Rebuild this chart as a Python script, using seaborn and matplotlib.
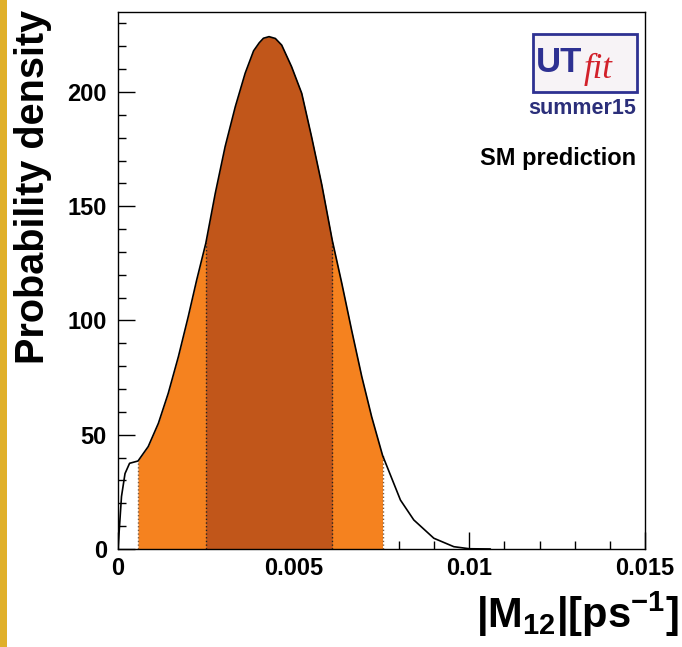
#imports
import numpy as np
import pandas as pd
import matplotlib
matplotlib.use("Agg")
import matplotlib.pyplot as plt
import seaborn as sns
from matplotlib.patches import Rectangle

#data
m12 = [0.0, 0.0001, 0.0002, 0.00033, 0.00057, 0.00086, 0.00115, 0.00143,
       0.00172, 0.0020, 0.00224, 0.0025, 0.00277, 0.00305, 0.00334, 0.00362,
       0.00386, 0.00402, 0.00414, 0.0043, 0.00448, 0.00466, 0.00494, 0.00523,
       0.00551, 0.0058, 0.0061, 0.00637, 0.00665, 0.00694, 0.00722, 0.00753,
       0.00766, 0.00804, 0.00842, 0.00899, 0.00956, 0.0100, 0.0106]
density = [0, 23, 33, 37.5, 38.5, 44.8, 55.0, 68.1,
           84.2, 101.7, 117.7, 133.8, 155.7, 176.1, 193.6, 208.2,
           218.0, 221.5, 223.5, 224.2, 223.4, 220.5, 211.1, 199.4,
           180.4, 159.5, 135, 116.3, 95.8, 75.4, 57.9, 41,
           36, 21.4, 12.7, 4.7, 1.0, 0.1, 0]
range95 = [0.00057, 0.00753]
range68 = [0.0025, 0.0061]
xticks = [0, 0.005, 0.01, 0.015]
xticklabels = ["0", "0.005", "0.01", "0.015"]
yticks = [0, 50, 100, 150, 200]

df = pd.DataFrame({"m12": m12, "density": density})

sns.set_style("white")
plt.rcParams['font.family'] = ['Liberation Sans', 'DejaVu Sans']
plt.rcParams['font.weight'] = 'bold'
plt.rcParams['text.color'] = 'black'
plt.rcParams['axes.labelcolor'] = 'black'
plt.rcParams['xtick.color'] = 'black'
plt.rcParams['ytick.color'] = 'black'
plt.rcParams['mathtext.fontset'] = 'custom'
plt.rcParams['mathtext.rm'] = 'Liberation Sans:bold'
plt.rcParams['mathtext.it'] = 'Liberation Sans:bold'
plt.rcParams['mathtext.bf'] = 'Liberation Sans:bold'
plt.rcParams['mathtext.default'] = 'rm'

fig = plt.figure(figsize=(6.82, 6.47), dpi=100)
ax = fig.add_axes([0.173, 0.1515, 0.7727, 0.83])

x = df["m12"].values
y = df["density"].values
# 95% and 68% regions
in95 = (x >= range95[0]) & (x <= range95[1])
in68 = (x >= range68[0]) & (x <= range68[1])
ax.fill_between(x, 0, y, where=in95, color="#f5821f", linewidth=0)
ax.fill_between(x, 0, y, where=in68, color="#c1561a", linewidth=0)
for xb in range95:
    ax.plot([xb, xb], [0, df.loc[df.m12 == xb, "density"].iloc[0]], ls=":", color="#7a5a40", lw=1)
for xb in range68:
    ax.plot([xb, xb], [0, df.loc[df.m12 == xb, "density"].iloc[0]], ls=":", color="#222222", lw=1)
sns.lineplot(data=df, x="m12", y="density", ax=ax, color="black", linewidth=1.2, estimator=None)

ax.set_xlim(0, 0.015)
ax.set_ylim(0, 235)
ax.set_xticks(xticks)
ax.set_xticklabels(xticklabels)
ax.set_yticks(yticks)
ax.set_xticks(np.arange(0, 0.0151, 0.001), minor=True)
ax.set_yticks(np.arange(0, 235, 10), minor=True)
ax.tick_params(axis="both", which="major", direction="in", length=12, width=1,
               labelsize=17, color="black", labelcolor="black")
ax.tick_params(axis="both", which="minor", direction="in", length=6, width=1, color="black")
ax.tick_params(axis="x", pad=6)
ax.tick_params(axis="y", pad=8)
ax.tick_params(bottom=True, left=True, top=False, right=False, which="both")
for lab in ax.get_xticklabels() + ax.get_yticklabels():
    lab.set_fontweight("bold")
for s in ax.spines.values():
    s.set_color("black")
    s.set_linewidth(1)

ax.set_xlabel("")
ax.set_ylabel("")
fig.text(0.048, 0.985, "Probability density", rotation=90, fontsize=28.5,
         fontweight="bold", ha="center", va="top")
fig.text(0.995, 0.012, r"$|M_{12}|[ps^{-1}]$", fontsize=30, ha="right", va="bottom")

#labels in the corner
fig.text(0.933, 0.755, "SM prediction", fontsize=17, fontweight="bold", ha="right", va="center")
fig.text(0.933, 0.833, "summer15", fontsize=15.5, fontweight="bold", color="#2b2f7a",
         ha="right", va="center")
fig.patches.append(Rectangle((533 / 682, 1 - 92 / 647), 104 / 682, 58 / 647,
                             transform=fig.transFigure, facecolor="#f7f3f6",
                             edgecolor="#2e3192", linewidth=2))
fig.text(536 / 682, 1 - 72 / 647, "UT", fontsize=25, fontweight="bold", color="#2e3192",
         ha="left", va="baseline")
fig.text(584 / 682, 1 - 78 / 647, "fit", fontsize=25, fontstyle="italic", color="#d2202a",
         family=["Liberation Serif", "DejaVu Serif"], fontweight="normal", ha="left", va="baseline")

#yellow strip on the left
fig.patches.append(Rectangle((0, 0), 7 / 682, 1, transform=fig.transFigure,
                             facecolor="#e0b02a", edgecolor="none"))

fig.savefig("out.png", dpi=100)
